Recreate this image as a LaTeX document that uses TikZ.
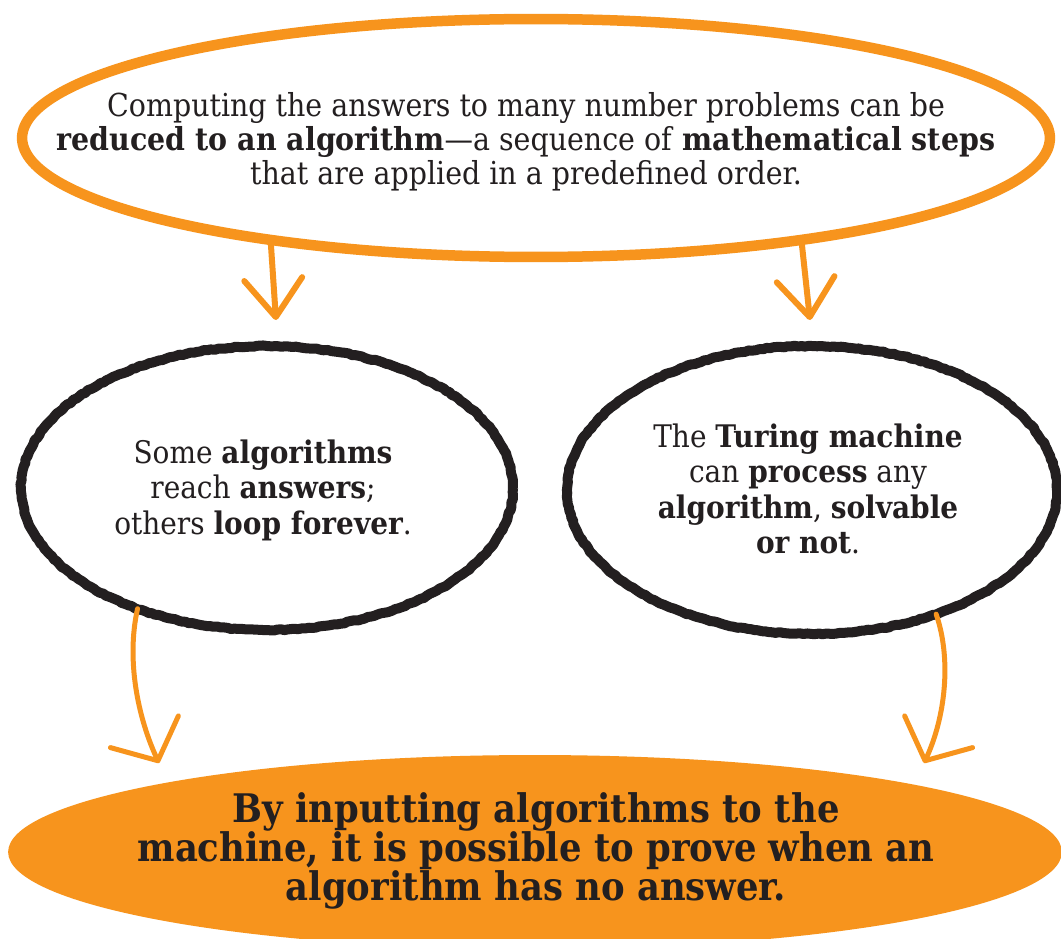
\documentclass[tikz,border=0pt]{standalone}
\usepackage{fontspec}
\setmainfont{DejaVu Serif Condensed}
\usetikzlibrary{shapes.geometric, arrows.meta, decorations.pathmorphing}
\definecolor{orng}{HTML}{F7941D}
\definecolor{ink}{HTML}{231F20}
\begin{document}
\begin{tikzpicture}[x=0.02cm, y=-0.02cm,
  bubble/.style={ellipse, inner sep=0pt, outer sep=0pt},
  topring/.style={bubble, draw=orng, line width=0.21cm,
    minimum width=20.56cm, minimum height=4.76cm},
  blackring/.style={bubble, draw=ink, line width=0.2cm, line join=round,
    decorate, decoration={random steps, segment length=2pt, amplitude=0.35pt}},
  botblob/.style={bubble, fill=orng, minimum width=21.08cm, minimum height=3.88cm},
  txt/.style={align=center, text=ink, inner sep=0pt, font=\fontsize{18}{19.4}\selectfont},
  midtxt/.style={align=center, text=ink, inner sep=0pt, font=\fontsize{17.7}{20.2}\selectfont},
  bigtxt/.style={align=center, text=ink, inner sep=0pt, font=\bfseries\fontsize{22.4}{22.3}\selectfont},
  arr/.style={draw=orng, line width=0.12cm, line cap=round,
    -{Straight Barb[length=0.76cm, width=1.16cm, round]}},
  arrc/.style={draw=orng, line width=0.1cm, line cap=round,
    -{Straight Barb[length=0.64cm, width=1.5cm, round]}}
]
\pgfmathsetseed{7}
\clip (0,0) rectangle (1061,939);
\fill[white] (0,0) rectangle (1061,939);

% top oval
\node[topring] (top) at (536,138) {};
\node[txt] (toptext) at (526,142) {Computing the answers to many number problems can be\\
\textbf{reduced to an algorithm}—a sequence of \textbf{mathematical steps}\\
that are applied in a predefined order.};

% middle ovals
\node[blackring, minimum width=9.84cm, minimum height=5.68cm] (left) at (267,488) {};
\node[midtxt] (lefttext) at (263,490) {Some \textbf{algorithms}\\ reach \textbf{answers};\\ others \textbf{loop forever}.};
\node[blackring, minimum width=9.8cm, minimum height=5.76cm] (right) at (812,490) {};
\node[midtxt] (righttext) at (808,489) {The \textbf{Turing machine}\\ can \textbf{process} any\\ \textbf{algorithm}, \textbf{solvable}\\ \textbf{or not}.};

% bottom filled oval
\node[botblob] (bot) at (535,852) {};
\node[bigtxt] (bottext) at (536,851) {By inputting algorithms to the\\ machine, it is possible to prove when an\\ algorithm has no answer.};

% arrow ends
\coordinate (tipA) at (276,320);
\coordinate (tipB) at (810,320);
\coordinate (tipC) at (159,763);
\coordinate (tipD) at (924,763);

\draw[arr] (top.201.55) -- (tipA);
\draw[arr] (top.339.8) -- (tipB);
\draw[arrc] (left.223.75) .. controls (126,660) and (138,718) .. (tipC);
\draw[arrc] (right.315.6) .. controls (952,660) and (945,718) .. (tipD);
\end{tikzpicture}
\end{document}
